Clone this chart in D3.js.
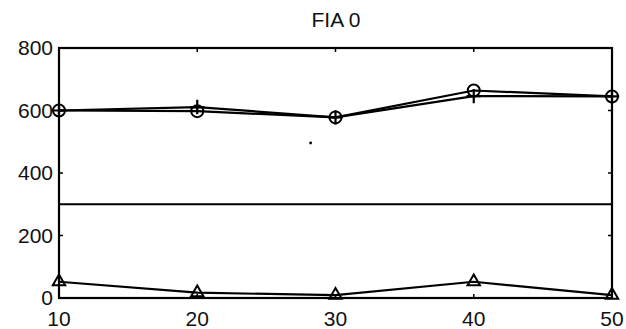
<!DOCTYPE html>
<html>
<head>
  <style>
    body { margin: 0; background: #fff; }
    svg { display: block; font-family: "Liberation Sans", Arial, sans-serif; }
  </style>
</head>
<body>
  <div id="chart"></div>
  <script src="https://d3js.org/d3.v7.min.js"></script>
  <script>
    // values
    var xs = [10, 20, 30, 40, 50];
    var circleSeries = [600, 598, 578, 664, 645];
    var plusSeries = [600, 611, 578, 646, 645];
    var triangleSeries = [52, 17, 9, 52, 9];
    var refLevel = 300;
    var strayPoint = [28.2, 496];
    var xTicks = [10, 20, 30, 40, 50];
    var yTicks = [0, 200, 400, 600, 800];
    var title = "FIA 0";

    var width = 626, height = 329;
    var margin = { left: 59, right: 14, top: 48, bottom: 31 };

    var svg = d3.select("#chart").append("svg")
      .attr("width", width)
      .attr("height", height);

    var x = d3.scaleLinear().domain([10, 50]).range([margin.left, width - margin.right]);
    var y = d3.scaleLinear().domain([0, 800]).range([height - margin.bottom, margin.top]);

    // frame
    svg.append("rect")
      .attr("x", x(10)).attr("y", y(800))
      .attr("width", x(50) - x(10)).attr("height", y(0) - y(800))
      .attr("fill", "none").attr("stroke", "#000").attr("stroke-width", 2.2);

    // inward ticks, all four sides
    var tl = 4;
    var ticks = svg.append("g").attr("stroke", "#000").attr("stroke-width", 1.5);
    xTicks.forEach(function (t) {
      ticks.append("line").attr("x1", x(t)).attr("x2", x(t)).attr("y1", y(0)).attr("y2", y(0) - tl);
      ticks.append("line").attr("x1", x(t)).attr("x2", x(t)).attr("y1", y(800)).attr("y2", y(800) + tl);
    });
    yTicks.forEach(function (t) {
      ticks.append("line").attr("x1", x(10)).attr("x2", x(10) + tl).attr("y1", y(t)).attr("y2", y(t));
      ticks.append("line").attr("x1", x(50)).attr("x2", x(50) - tl).attr("y1", y(t)).attr("y2", y(t));
    });

    // tick labels
    svg.append("g").selectAll("text").data(xTicks).join("text")
      .attr("x", function (d) { return x(d); })
      .attr("y", y(0) + 28)
      .attr("text-anchor", "middle")
      .attr("font-size", 21)
      .attr("fill", "#111")
      .text(function (d) { return d; });

    svg.append("g").selectAll("text").data(yTicks).join("text")
      .attr("x", x(10) - 6)
      .attr("y", function (d) { return y(d) + 7; })
      .attr("text-anchor", "end")
      .attr("font-size", 21)
      .attr("fill", "#111")
      .text(function (d) { return d; });

    svg.append("text")
      .attr("x", 336).attr("y", 27)
      .attr("text-anchor", "middle")
      .attr("font-size", 21)
      .attr("fill", "#111")
      .text(title);

    // reference line
    svg.append("line")
      .attr("x1", x(10)).attr("x2", x(50))
      .attr("y1", y(refLevel)).attr("y2", y(refLevel))
      .attr("stroke", "#000").attr("stroke-width", 2);

    var line = d3.line()
      .x(function (d, i) { return x(xs[i]); })
      .y(function (d) { return y(d); });

    [circleSeries, plusSeries, triangleSeries].forEach(function (s) {
      svg.append("path").datum(s)
        .attr("d", line)
        .attr("fill", "none").attr("stroke", "#000").attr("stroke-width", 2.2);
    });

    // markers
    svg.append("g").selectAll("circle").data(circleSeries).join("circle")
      .attr("cx", function (d, i) { return x(xs[i]); })
      .attr("cy", function (d) { return y(d); })
      .attr("r", 6)
      .attr("fill", "none").attr("stroke", "#000").attr("stroke-width", 2);

    svg.append("g").selectAll("path").data(plusSeries).join("path")
      .attr("transform", function (d, i) { return "translate(" + x(xs[i]) + "," + y(d) + ")"; })
      .attr("d", d3.symbol().type(d3.symbolPlus ? d3.symbolPlus : d3.symbolCross).size(70))
      .attr("fill", "none").attr("stroke", "#000").attr("stroke-width", 2.2);

    svg.append("g").selectAll("path").data(triangleSeries).join("path")
      .attr("transform", function (d, i) { return "translate(" + x(xs[i]) + "," + y(d) + ")"; })
      .attr("d", d3.symbol().type(d3.symbolTriangle2 ? d3.symbolTriangle2 : d3.symbolTriangle).size(110))
      .attr("fill", "none").attr("stroke", "#000").attr("stroke-width", 2);

    // stray dot
    svg.append("circle")
      .attr("cx", x(strayPoint[0])).attr("cy", y(strayPoint[1]))
      .attr("r", 1.4).attr("fill", "#000");
  </script>
</body>
</html>
